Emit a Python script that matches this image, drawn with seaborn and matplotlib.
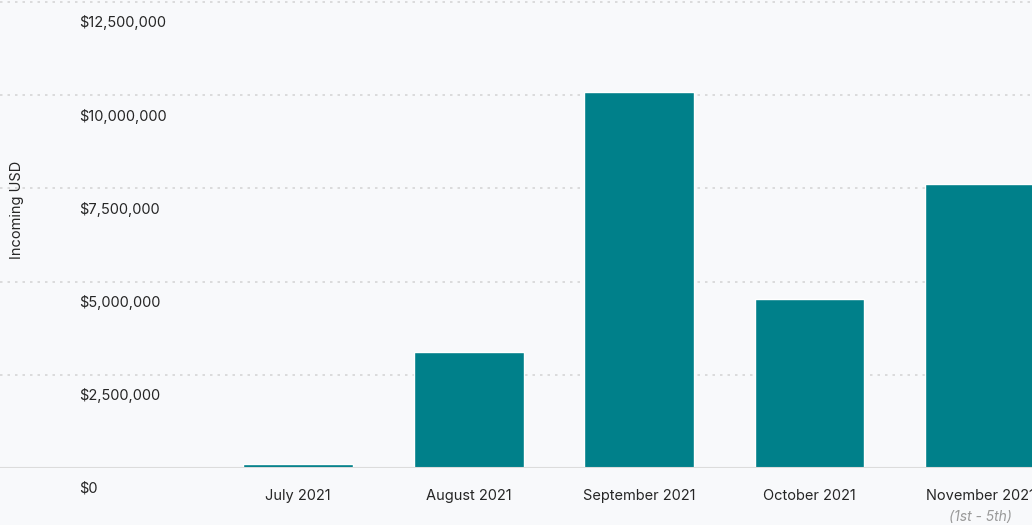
import numpy as np
import pandas as pd
import seaborn as sns
import matplotlib.pyplot as plt
import matplotlib.transforms as mtransforms

# data
months = ['July 2021', 'August 2021', 'September 2021', 'October 2021', 'November 2021']
incoming = [120000, 3110000, 10090000, 4530000, 7620000]
y_ticks = [0, 2500000, 5000000, 7500000, 10000000, 12500000]

df = pd.DataFrame({'month': months, 'incoming': incoming})

bg = '#f8f9fb'
teal = '#00808a'
txt = '#262626'

sns.set_theme(style='white')
plt.rcParams['font.family'] = ['Inter', 'DejaVu Sans']

fig = plt.figure(figsize=(10.32, 5.25), dpi=100, facecolor=bg)
ax = fig.add_axes([0, 1 - 468 / 525, 1, 468 / 525])
ax.set_facecolor(bg)

sns.barplot(data=df, x='month', y='incoming', color=teal, width=0.645,
            saturation=1, ax=ax, zorder=3)

ax.set_xlim(-1.748, 4.305)
ax.set_ylim(0, 12550000)

# dotted grid + solid baseline
for v in y_ticks[1:]:
    ax.axhline(v, color='#d6d6d6', lw=1.2, ls=(0, (1.5, 3)), zorder=1)
ax.axhline(0, color='#dcdcdc', lw=1.5, zorder=4)

for s in ax.spines.values():
    s.set_visible(False)

ax.set_yticks([])
ax.set_ylabel('')
ax.set_xlabel('')
ax.tick_params(axis='x', length=0, pad=15, labelsize=10.5, labelcolor=txt)

# y labels sit inside the plot, just below each grid line
trans = mtransforms.blended_transform_factory(ax.transAxes, ax.transData)
off = mtransforms.offset_copy(trans, fig=fig, x=0, y=-21, units='dots')
for v in y_ticks:
    ax.text(0.077, v, f'${v:,.0f}', transform=off, ha='left', va='center',
            fontsize=10.5, color=txt)

fig.text(17 / 1032, 1 - 210 / 525, 'Incoming USD', rotation=90, ha='center',
         va='center', fontsize=10.5, color=txt)

# footnote under the last month
xt = mtransforms.offset_copy(ax.get_xaxis_transform(), fig=fig, x=0, y=-49, units='dots')
ax.text(4, 0, '(1st - 5th)', transform=xt, ha='center', va='center',
        fontsize=10, style='italic', color='#9a9a9a')

fig.savefig('out.png', dpi=100, facecolor=bg)
